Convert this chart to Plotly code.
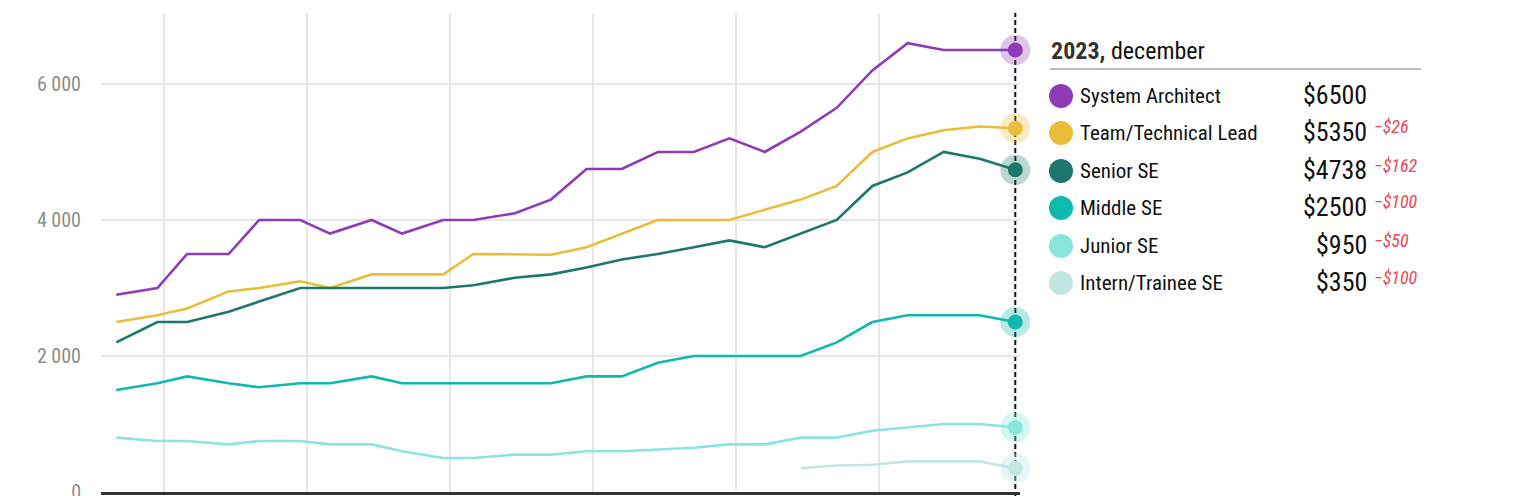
import plotly.graph_objects as go

dates = ["2017-09-01", "2017-12-15", "2018-03-01", "2018-06-15", "2018-09-01", "2018-12-15",
         "2019-03-01", "2019-06-15", "2019-09-01", "2019-12-15", "2020-03-01", "2020-06-15",
         "2020-09-15", "2020-12-15", "2021-03-15", "2021-06-15", "2021-09-15", "2021-12-15",
         "2022-03-15", "2022-06-15", "2022-09-15", "2022-12-15", "2023-03-15", "2023-06-15",
         "2023-09-15", "2023-12-15"]

names = ["System Architect", "Team/Technical Lead", "Senior SE", "Middle SE", "Junior SE", "Intern/Trainee SE"]

system_architect = [2900, 3000, 3500, 3500, 4000, 4000, 3800, 4000, 3800, 4000, 4000, 4100, 4300,
                    4750, 4750, 5000, 5000, 5200, 5000, 5300, 5650, 6200, 6600, 6500, 6500, 6500]
team_lead = [2500, 2600, 2700, 2950, 3000, 3100, 3000, 3200, 3200, 3200, 3500, 3500, 3490,
             3600, 3800, 4000, 4000, 4000, 4150, 4300, 4500, 5000, 5200, 5320, 5376, 5350]
senior = [2200, 2500, 2500, 2650, 2800, 3000, 3000, 3000, 3000, 3000, 3040, 3150, 3200,
          3300, 3420, 3500, 3600, 3700, 3600, 3800, 4000, 4500, 4700, 5000, 4900, 4738]
middle = [1500, 1600, 1700, 1600, 1540, 1600, 1600, 1700, 1600, 1600, 1600, 1600, 1600,
          1700, 1700, 1900, 2000, 2000, 2000, 2000, 2200, 2500, 2600, 2600, 2600, 2500]
junior = [800, 750, 750, 700, 750, 750, 700, 700, 600, 500, 500, 550, 550,
          600, 600, 630, 650, 700, 700, 800, 800, 900, 950, 1000, 1000, 950]
intern = [None] * 19 + [350, 390, 400, 450, 450, 450, 350]

series = [system_architect, team_lead, senior, middle, junior, intern]
colors = ["#8e3bb7", "#e9bd38", "#1e776c", "#0fb9ae", "#8ae6dd", "#c2e7e3"]
halo = ["rgba(142,59,183,0.3)", "rgba(233,189,56,0.3)", "rgba(30,119,108,0.3)",
        "rgba(15,185,174,0.3)", "rgba(138,230,221,0.35)", "rgba(194,231,227,0.4)"]

yticks = [0, 2000, 4000, 6000]
header_year = "2023,"
header_month = "december"

FONT = "Roboto Condensed, Roboto, sans-serif"

W, H = 1527, 496
L, R, T, B = 101, 1020, 13, 492

fig = go.Figure()
for name, vals, c in zip(names, series, colors):
    fig.add_trace(go.Scatter(x=dates, y=vals, mode="lines", name=name,
                             line=dict(color=c, width=2.6), hoverinfo="skip",
                             showlegend=False, connectgaps=False))
for vals, c, h in zip(series, colors, halo):
    fig.add_trace(go.Scatter(x=[dates[-1]], y=[vals[-1]], mode="markers",
                             marker=dict(size=30, color=h, line=dict(width=0)),
                             hoverinfo="skip", showlegend=False, cliponaxis=False))
    fig.add_trace(go.Scatter(x=[dates[-1]], y=[vals[-1]], mode="markers",
                             marker=dict(size=15, color=c, line=dict(width=0)),
                             hoverinfo="skip", showlegend=False, cliponaxis=False))


def px_x(px):
    return (px - L) / (R - L)


def px_y(py):
    return (B - py) / (B - T)


shapes = []
annotations = []
# dashed current line
shapes.append(dict(type="line", xref="x", yref="paper", x0=dates[-1], x1=dates[-1],
                   y0=px_y(497), y1=1, line=dict(color="#111", width=2, dash="5px,3px"),
                   layer="below"))
# header
annotations.append(dict(xref="paper", yref="paper", x=px_x(1049), y=px_y(51),
                        xanchor="left", yanchor="middle", showarrow=False,
                        text=f"<b>{header_year}</b> <span style='color:#111'>{header_month}</span>",
                        font=dict(family=FONT, size=24, color="#333")))
shapes.append(dict(type="line", xref="paper", yref="paper", x0=px_x(1050), x1=px_x(1421),
                   y0=px_y(69), y1=px_y(69), line=dict(color="#777", width=1)))

row_y = [96, 133, 171, 208, 246, 283]
for i, (name, vals, c) in enumerate(zip(names, series, colors)):
    cy = row_y[i]
    r = 12
    shapes.append(dict(type="circle", xref="paper", yref="paper",
                       x0=px_x(1061 - r), x1=px_x(1061 + r), y0=px_y(cy + r), y1=px_y(cy - r),
                       fillcolor=c, line=dict(width=0)))
    annotations.append(dict(xref="paper", yref="paper", x=px_x(1078), y=px_y(cy),
                            xanchor="left", yanchor="middle", showarrow=False, text=name,
                            font=dict(family=FONT, size=21, color="#111")))
    annotations.append(dict(xref="paper", yref="paper", x=px_x(1369), y=px_y(cy - 1),
                            xanchor="right", yanchor="middle", showarrow=False,
                            text=f"${vals[-1]}",
                            font=dict(family=FONT, size=26, color="#111")))
    delta = vals[-1] - vals[-2]
    if delta != 0:
        sign = "−" if delta < 0 else "+"
        annotations.append(dict(xref="paper", yref="paper", x=px_x(1372), y=px_y(cy - 6),
                                xanchor="left", yanchor="middle", showarrow=False,
                                text=f"<i>{sign}${abs(delta)}</i>",
                                font=dict(family=FONT, size=18, color="#ea4650")))

fig.update_layout(
    width=W, height=H,
    margin=dict(l=L, r=W - R, t=T, b=H - B, pad=0, autoexpand=False),
    paper_bgcolor="white", plot_bgcolor="white",
    separators=". ",
    shapes=shapes, annotations=annotations,
    xaxis=dict(type="date", range=["2017-07-24", "2023-12-27"], automargin=False,
               tick0="2018-01-01", dtick="M12", showgrid=True, gridcolor="#e6e6e6",
               gridwidth=1.5, showticklabels=False, ticks="", zeroline=False,
               showline=True, linecolor="#333", linewidth=3),
    yaxis=dict(range=[0, 7044], tickvals=yticks, tickformat=",d", showgrid=True,
               automargin=False,
               gridcolor="#e6e6e6", gridwidth=1.5, zeroline=False, showline=False,
               ticks="", ticklabelstandoff=19, ticklabeloverflow="allow",
               tickfont=dict(family=FONT, size=20, color="#8d8d8d")),
    hovermode=False,
)

fig.write_html("out.html")
